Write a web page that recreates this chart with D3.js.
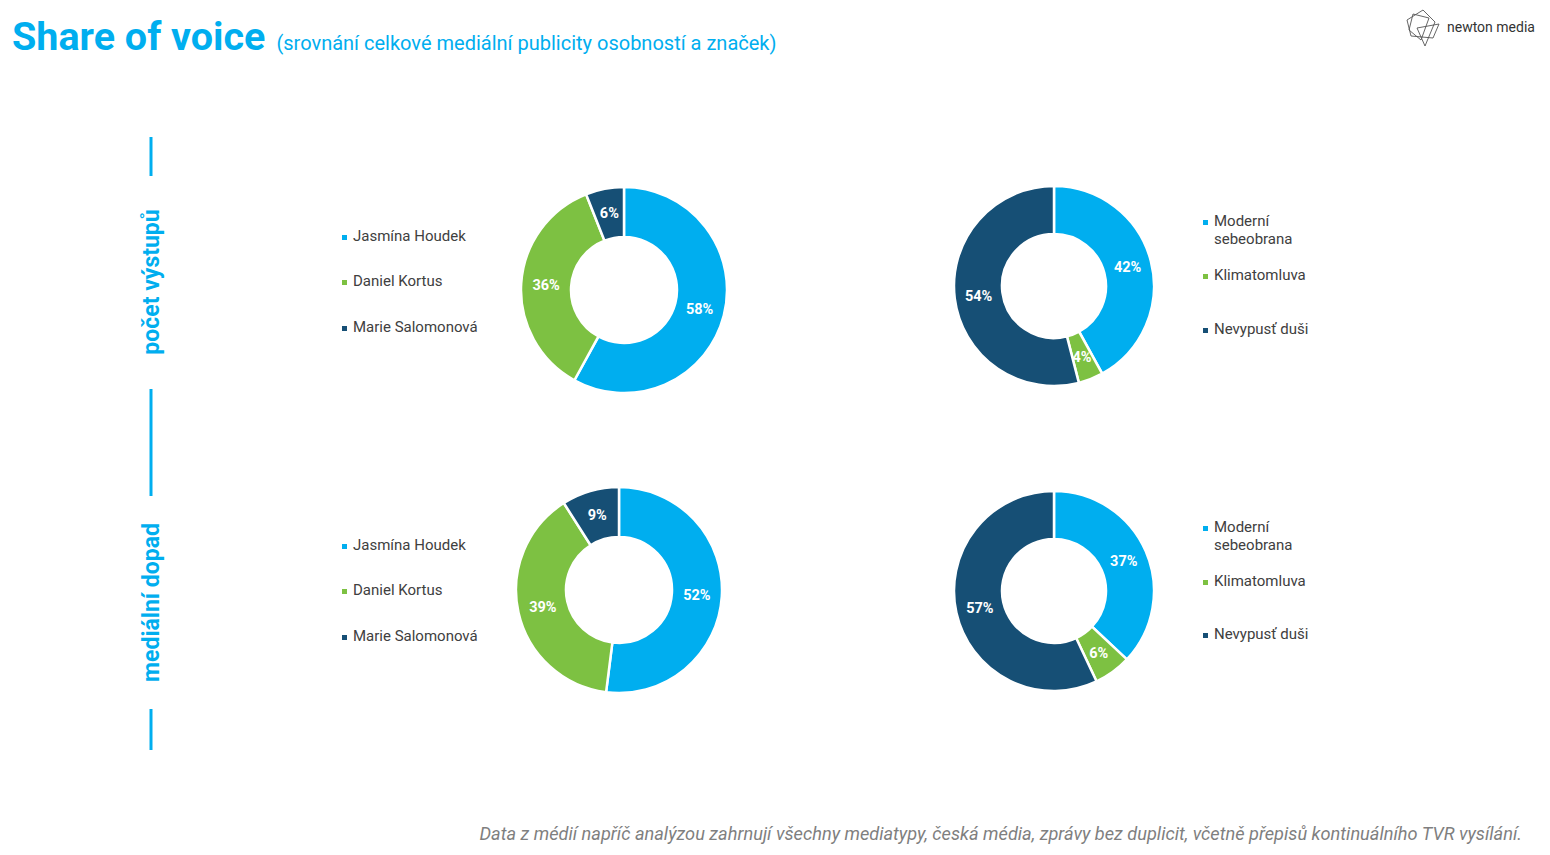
<!DOCTYPE html>
<html>
<head>
<meta charset="utf-8">
<script src="https://cdn.jsdelivr.net/npm/d3@7"></script>
<style>
  body { margin: 0; background: #fff; }
  svg { display: block; font-family: Roboto, "Noto Sans", sans-serif; }
</style>
</head>
<body>
<div id="chart"></div>
<script>
// data
const persons = ["Jasmína Houdek", "Daniel Kortus", "Marie Salomonová"];
const brands = [["Moderní", "sebeobrana"], ["Klimatomluva"], ["Nevypusť duši"]];
const personsCount = [58, 36, 6];
const personsImpact = [52, 39, 9];
const brandsCount = [42, 4, 54];
const brandsImpact = [37, 6, 57];
const rowLabels = ["počet výstupů", "mediální dopad"];

const colors = ["#00aeef", "#7dc142", "#164f75"];
const blue = "#00aeef";

const W = 1550, H = 855;
const svg = d3.select("#chart").append("svg")
    .attr("width", W)
    .attr("height", H);

// title
const title = svg.append("text")
    .attr("x", 12).attr("y", 50)
    .attr("fill", blue);
title.append("tspan")
    .attr("font-size", 39.5).attr("font-weight", 700)
    .text("Share of voice");
title.append("tspan")
    .attr("dx", 11)
    .attr("font-size", 20)
    .text("(srovnání celkové mediální publicity osobností a značek)");

// logo
const logo = svg.append("g").attr("transform", "translate(1405,8)")
    .attr("fill", "none").attr("stroke", "#555").attr("stroke-width", 0.9);
logo.append("path").attr("d", "M2,12 L18,2 L30,14 L20,38 L12,20 L34,16 L28,30 L6,28 Z");
logo.append("path").attr("d", "M8,6 L24,10 L16,32 L4,22 Z");
svg.append("text")
    .attr("x", 1447).attr("y", 32)
    .attr("font-size", 14).attr("fill", "#333")
    .text("newton media");

// side labels with blue bars
const sideX = 151;
[[137, 176], [389, 496], [709, 750]].forEach(([a, b]) => {
    svg.append("line")
        .attr("x1", sideX).attr("x2", sideX)
        .attr("y1", a).attr("y2", b)
        .attr("stroke", blue).attr("stroke-width", 3);
});
[[282, rowLabels[0]], [602.5, rowLabels[1]]].forEach(([cy, t]) => {
    svg.append("text")
        .attr("transform", `translate(${sideX + 8},${cy}) rotate(-90)`)
        .attr("text-anchor", "middle")
        .attr("font-size", 23).attr("font-weight", 700)
        .attr("fill", blue)
        .text(t);
});

const pie = d3.pie().sort(null).value(d => d);

function donut(values, cx, cy, rOuter, rInner) {
    const arc = d3.arc().innerRadius(rInner).outerRadius(rOuter);
    const g = svg.append("g").attr("transform", `translate(${cx},${cy})`);
    const arcs = pie(values);
    g.selectAll("path")
        .data(arcs)
        .enter()
        .append("path")
        .attr("d", arc)
        .attr("fill", (d, i) => colors[i])
        .attr("stroke", "#fff")
        .attr("stroke-width", 2.5);
    g.selectAll("text")
        .data(arcs)
        .enter()
        .append("text")
        .attr("transform", d => `translate(${arc.centroid(d)})`)
        .attr("text-anchor", "middle")
        .attr("dy", "0.35em")
        .attr("font-size", 14.5).attr("font-weight", 700)
        .attr("fill", "#fff")
        .text(d => d.data + "%");
}

function legend(items, x, ys) {
    items.forEach((lines, i) => {
        svg.append("rect")
            .attr("x", x).attr("y", ys[i] - 6)
            .attr("width", 5).attr("height", 5)
            .attr("fill", colors[i]);
        const t = svg.append("text")
            .attr("x", x + 11).attr("y", ys[i])
            .attr("font-size", 15).attr("fill", "#404040");
        [].concat(lines).forEach((l, j) => {
            t.append("tspan").attr("x", x + 11).attr("dy", j ? 18 : 0).text(l);
        });
    });
}

donut(personsCount, 624, 290, 103, 53);
donut(brandsCount, 1054, 286, 100, 52);
donut(personsImpact, 619, 590, 103, 53);
donut(brandsImpact, 1054, 591, 100, 52);

legend(persons, 342, [241, 286, 332]);
legend(persons, 342, [550, 595, 641]);
legend(brands, 1203, [226, 280, 334]);
legend(brands, 1203, [532, 586, 639]);

// footnote
svg.append("text")
    .attr("x", 1522).attr("y", 840)
    .attr("text-anchor", "end")
    .attr("font-size", 18.2).attr("font-style", "italic")
    .attr("fill", "#7f7f7f")
    .text("Data z médií napříč analýzou zahrnují všechny mediatypy, česká média, zprávy bez duplicit, včetně přepisů kontinuálního TVR vysílání.");
</script>
</body>
</html>
